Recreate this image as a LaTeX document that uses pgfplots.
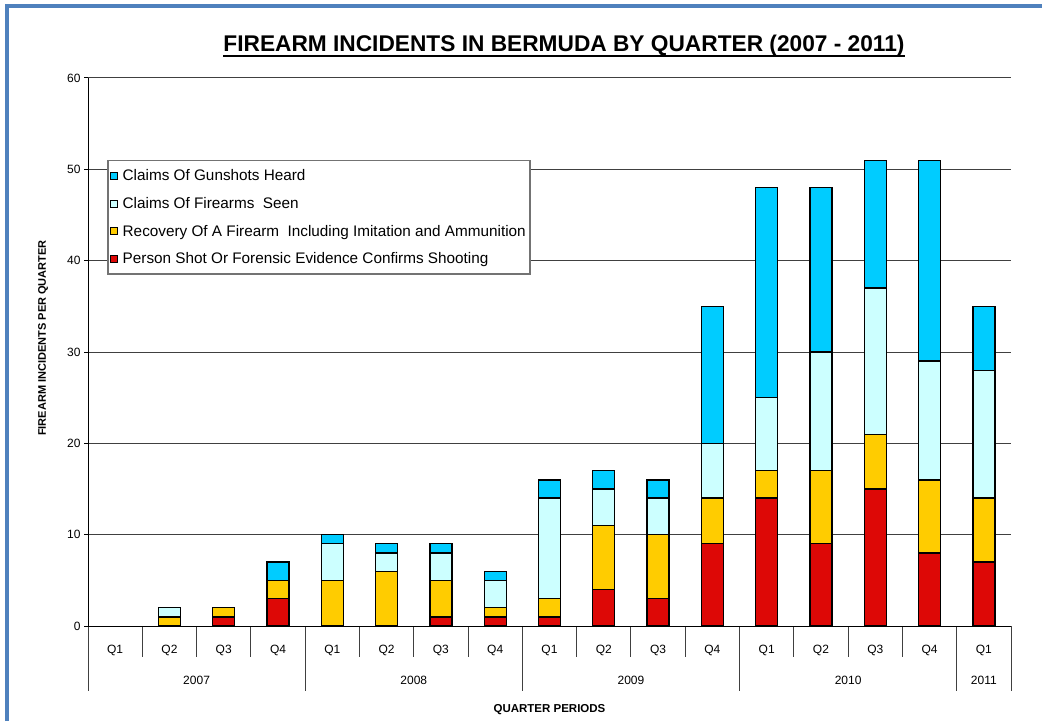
\documentclass[border=0pt]{standalone}
\usepackage{pgfplots}
\pgfplotsset{compat=1.18}
\usepackage{pgfplotstable}
\usepackage{fontspec}
\setmainfont{Liberation Sans}
\definecolor{cblue}{RGB}{0,204,255}
\definecolor{clight}{RGB}{204,255,255}
\definecolor{cyellow}{RGB}{255,204,0}
\definecolor{cred}{RGB}{221,8,6}
\definecolor{frameblue}{RGB}{79,129,189}
\pgfplotstableread{
x red yellow light blue
0 0 0 0 0
1 0 1 1 0
2 1 1 0 0
3 3 2 0 2
4 0 5 4 1
5 0 6 2 1
6 1 4 3 1
7 1 1 3 1
8 1 2 11 2
9 4 7 4 2
10 3 7 4 2
11 9 5 6 15
12 14 3 8 23
13 9 8 13 18
14 15 6 16 14
15 8 8 13 22
16 7 7 14 7
}\datatable
\begin{document}
\begin{tikzpicture}[x=1pt,y=1pt]
\path[use as bounding box] (0,0) rectangle (1042,721);
\draw[frameblue, line width=4pt] (7,0) -- (7,715) -- (1042,715);
\node[font=\fontsize{22.7}{26}\selectfont\bfseries, anchor=base, inner sep=0pt] (title) at (564,669) {FIREARM INCIDENTS IN BERMUDA BY QUARTER (2007 - 2011)};
\draw[black, line width=2.5pt] ([yshift=-4pt]title.base west) -- ([yshift=-4pt]title.base east);
\node[font=\fontsize{11}{13}\selectfont\bfseries, rotate=90] at (43,383) {FIREARM INCIDENTS PER QUARTER};
\begin{axis}[
  at={(88pt,95pt)}, anchor=south west,
  scale only axis, width=923pt, height=548pt,
  ybar stacked, bar width=22pt,
  xmin=-0.5, xmax=16.5, ymin=0, ymax=60,
  ytick={0,10,...,60},
  xtick={0,...,16},
  xticklabels={Q1,Q2,Q3,Q4,Q1,Q2,Q3,Q4,Q1,Q2,Q3,Q4,Q1,Q2,Q3,Q4,Q1},
  x tick label style={font=\fontsize{12}{14}\selectfont, yshift=-12pt},
  y tick label style={font=\fontsize{12}{14}\selectfont},
  /pgf/number format/assume math mode=true,
  axis x line*=bottom, axis y line*=left,
  axis line style={black, line width=1pt, -},
  x axis line style={draw=none},
  ymajorgrids, grid style={black!75, line width=1pt},
  major x tick style={draw=none},
  major y tick style={black, line width=1pt},
  tick align=outside, major tick length=4pt,
  clip=false,
  xlabel={QUARTER PERIODS},
  xlabel style={font=\fontsize{11.5}{13}\selectfont\bfseries, yshift=-41pt},
  legend style={at={(19pt,466pt)}, anchor=north west, draw=black!55, line width=1.5pt,
    font=\fontsize{15.3}{17}\selectfont, row sep=11pt, inner xsep=2pt, inner ysep=7pt,
    legend cell align=left},
  legend image code/.code={\draw[#1, line width=0.6pt, draw=black] (0pt,-3.5pt) rectangle (7pt,3.5pt);
    \path (10pt,0pt);},
  reverse legend,
  every axis plot/.append style={draw=black, line width=1.3pt},
]
\addplot[fill=cred] table[x=x,y=red] {\datatable};
\addlegendentry{Person Shot Or Forensic Evidence Confirms Shooting}
\addplot[fill=cyellow] table[x=x,y=yellow] {\datatable};
\addlegendentry{Recovery Of A Firearm\ \ Including Imitation and Ammunition}
\addplot[fill=clight] table[x=x,y=light] {\datatable};
\addlegendentry{Claims Of Firearms\ \ Seen}
\addplot[fill=cblue] table[x=x,y=blue] {\datatable};
\addlegendentry{Claims Of Gunshots Heard}
% category separators
\draw[black, line width=1pt] (axis cs:-0.5,0) -- (axis cs:16.5,0);
\pgfplotsinvokeforeach{0.5,1.5,2.5,4.5,5.5,6.5,8.5,9.5,10.5,12.5,13.5,14.5}{
  \draw[black!75, line width=1pt] (axis cs:#1,0) -- ++(0pt,-31pt);
}
\pgfplotsinvokeforeach{-0.5,3.5,7.5,11.5,15.5,16.5}{
  \draw[black!75, line width=1pt] (axis cs:#1,0) -- ++(0pt,-65pt);
}
\node[font=\fontsize{12}{14}\selectfont] at (axis cs:1.5,0) [yshift=-54pt] {2007};
\node[font=\fontsize{12}{14}\selectfont] at (axis cs:5.5,0) [yshift=-54pt] {2008};
\node[font=\fontsize{12}{14}\selectfont] at (axis cs:9.5,0) [yshift=-54pt] {2009};
\node[font=\fontsize{12}{14}\selectfont] at (axis cs:13.5,0) [yshift=-54pt] {2010};
\node[font=\fontsize{12}{14}\selectfont] at (axis cs:16,0) [yshift=-54pt] {2011};
\end{axis}
\end{tikzpicture}
\end{document}
